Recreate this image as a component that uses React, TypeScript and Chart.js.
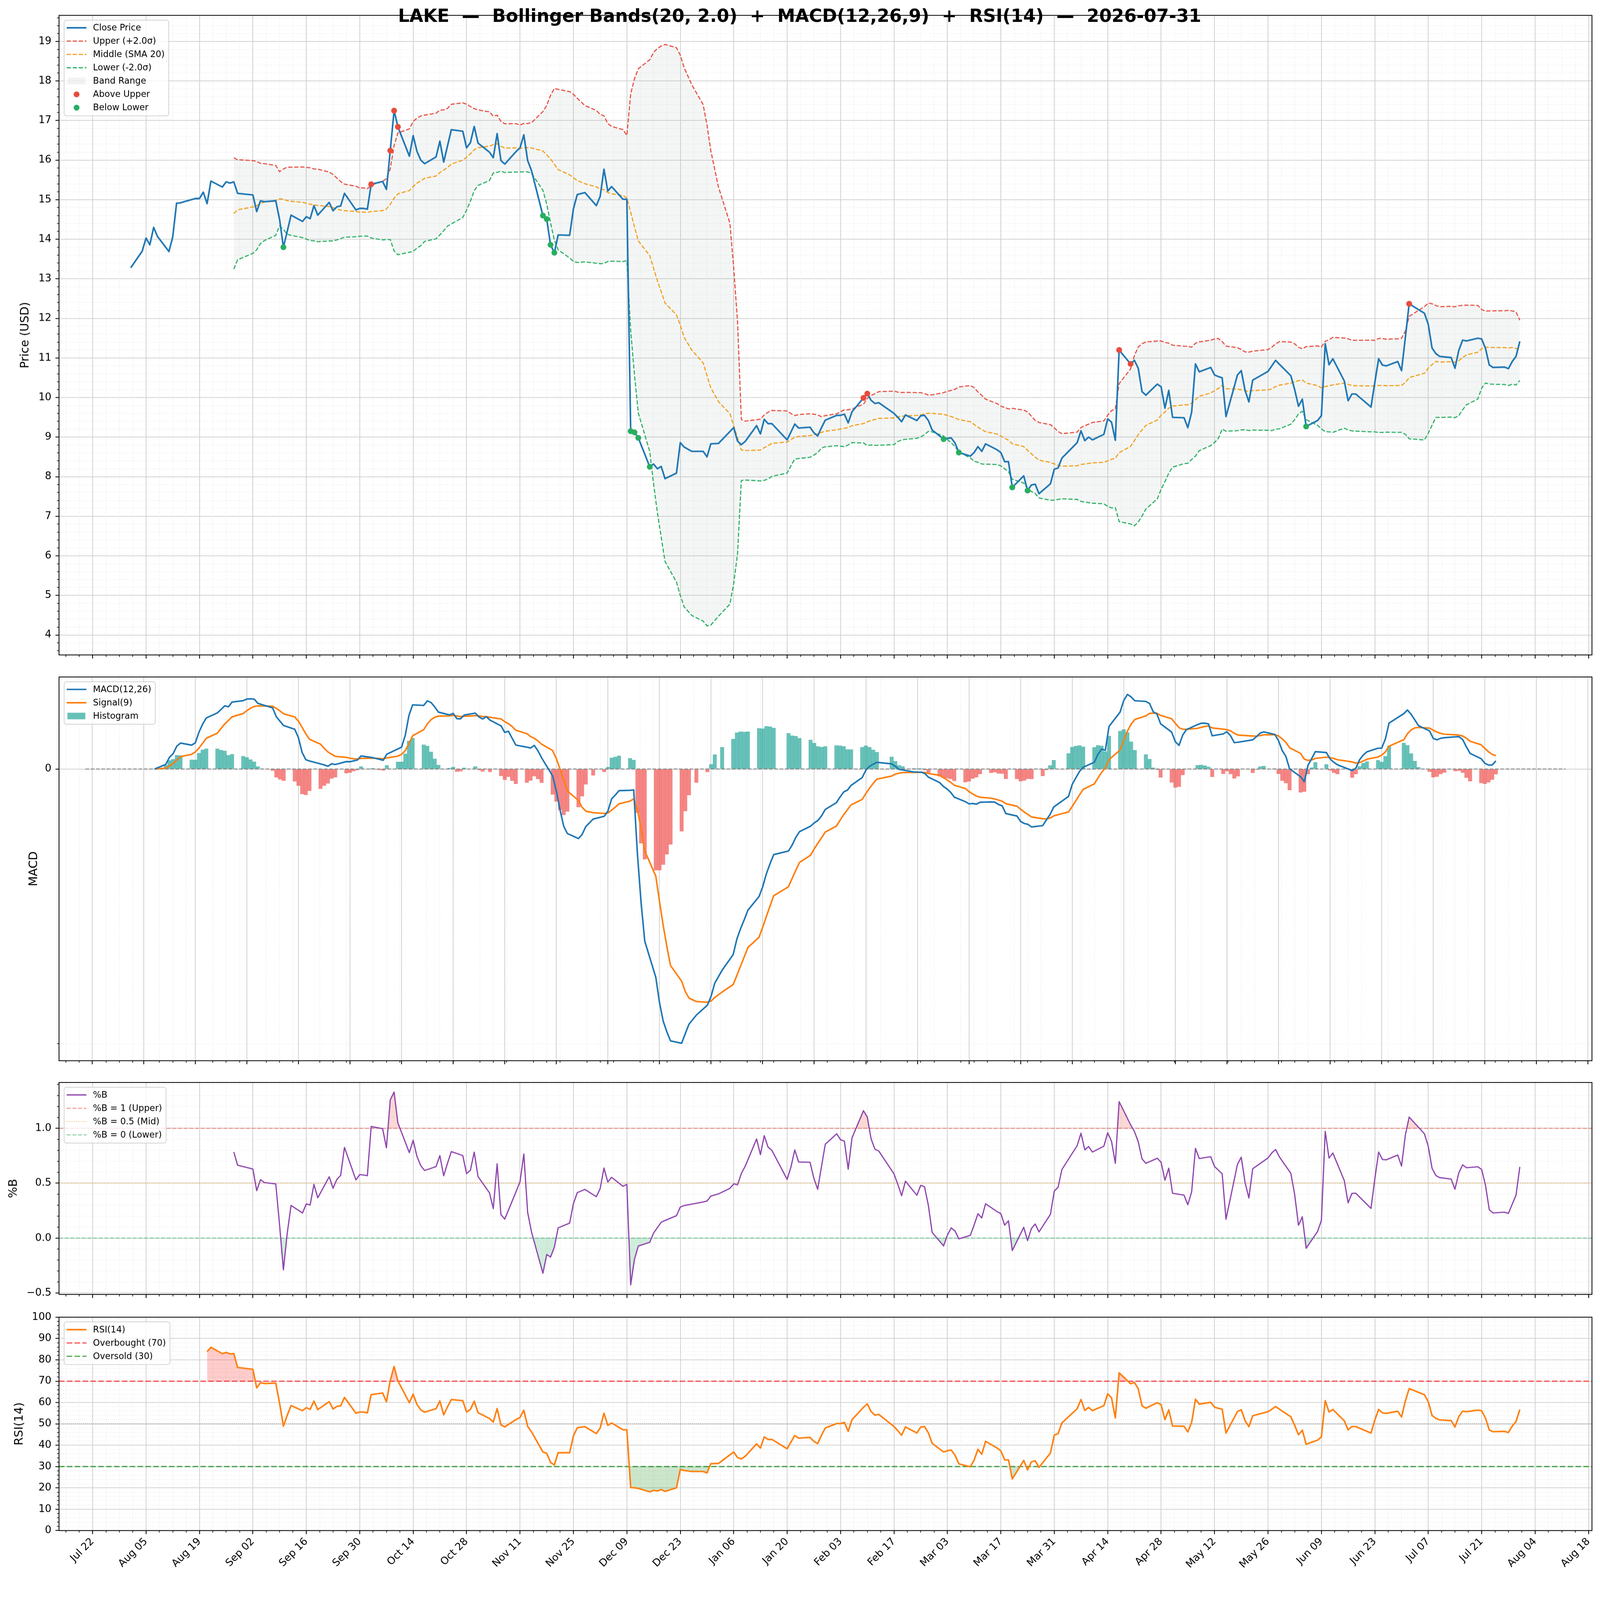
import { useEffect, useRef } from "react";
import { Chart, registerables } from "chart.js";
import type { ChartConfiguration, Plugin } from "chart.js";

Chart.register(...registerables);
Chart.defaults.font.family = '"DejaVu Sans", sans-serif';
Chart.defaults.color = "#000";

const TITLE =
  "LAKE  \u2014  Bollinger Bands(20, 2.0)  +  MACD(12,26,9)  +  RSI(14)  \u2014  2026-07-31";
const FIRST_SESSION = "2025-08-01";
const LAST_SESSION = "2026-07-31";
const marketHolidays = [
  "2025-09-01", "2025-11-27", "2025-12-25", "2026-01-01", "2026-01-19",
  "2026-02-16", "2026-04-03", "2026-05-25", "2026-06-19", "2026-07-03",
];

// daily closes, one row per trading week
const closePrices: number[] = [
  13.28,
  13.7, 14.03, 13.86, 14.3, 14.07,
  13.69, 14.06, 14.91, 14.92, 14.95,
  15.03, 15.03, 15.19, 14.9, 15.47,
  15.32, 15.45, 15.42, 15.45, 15.16,
  15.12, 14.7, 14.97, 14.95,
  14.97, 14.5, 13.8, 14.2, 14.61,
  14.45, 14.57, 14.52, 14.85, 14.61,
  14.93, 14.72, 14.82, 14.84, 15.16,
  14.74, 14.78, 14.78, 14.76, 15.39,
  15.46, 15.26, 16.24, 17.25, 16.84,
  16.1, 16.62, 16.22, 16.0, 15.91,
  16.08, 16.48, 15.95, 16.36, 16.77,
  16.73, 16.31, 16.44, 16.85, 16.43,
  16.2, 16.06, 16.67, 15.99, 15.9,
  16.22, 16.31, 16.64, 15.99, 15.74,
  14.6, 14.51, 13.86, 13.66, 14.11,
  14.1, 14.77, 15.13, 15.18,
  14.85, 15.08, 15.77, 15.22, 15.33,
  15.01, 15.01, 9.15, 9.12, 8.98,
  8.25, 8.32, 8.2, 8.26, 7.95,
  8.09, 8.86, 8.75, 8.64,
  8.64, 8.5, 8.83, 8.84,
  9.14, 9.24, 8.9, 8.81, 8.89,
  9.29, 9.08, 9.45, 9.34, 9.34,
  8.93, 9.13, 9.33, 9.23,
  9.25, 9.11, 9.03, 9.24, 9.43,
  9.55, 9.55, 9.58, 9.36, 9.64,
  9.99, 10.1, 9.93, 9.85, 9.87,
  9.6, 9.5, 9.39, 9.56,
  9.42, 9.54, 9.55, 9.42, 9.18,
  8.95, 8.97, 8.98, 8.85, 8.61,
  8.52, 8.61, 8.76, 8.64, 8.83,
  8.68, 8.61, 8.38, 8.38, 7.73,
  8.02, 7.65, 7.79, 7.81, 7.57,
  7.82, 8.19, 8.22, 8.47,
  8.86, 9.16, 8.91, 9.0, 8.93,
  9.07, 9.46, 9.38, 8.92, 11.2,
  10.85, 10.94, 10.74, 10.15, 10.06,
  10.34, 10.27, 9.73, 10.18, 9.5,
  9.49, 9.24, 9.63, 10.85, 10.65,
  10.76, 10.57, 10.53, 10.5, 9.52,
  10.57, 10.68, 10.18, 9.89, 10.44,
  10.66, 10.8, 10.94, 10.84,
  10.55, 10.2, 9.78, 9.96, 9.27,
  9.42, 9.54, 11.36, 10.83, 10.98,
  10.42, 9.92, 10.09, 10.09,
  9.76, 10.38, 10.98, 10.82, 10.8,
  10.91, 10.68, 11.52, 12.37,
  12.13, 11.85, 11.25, 11.11, 11.04,
  11.01, 10.74, 11.19, 11.45, 11.43,
  11.5, 11.48, 11.24, 10.82, 10.76,
  10.77, 10.73, 10.91, 11.04, 11.42,
];

const dateTickLabels = [
  "Jul 22", "Aug 05", "Aug 19", "Sep 02", "Sep 16", "Sep 30", "Oct 14", "Oct 28",
  "Nov 11", "Nov 25", "Dec 09", "Dec 23", "Jan 06", "Jan 20", "Feb 03", "Feb 17",
  "Mar 03", "Mar 17", "Mar 31", "Apr 14", "Apr 28", "May 12", "May 26", "Jun 09",
  "Jun 23", "Jul 07", "Jul 21", "Aug 04", "Aug 18",
];
const priceTicks = [4, 5, 6, 7, 8, 9, 10, 11, 12, 13, 14, 15, 16, 17, 18, 19];
const macdTicks = [0];
const macdMinorTicks = [-2];
const pctBTicks = [-0.5, 0, 0.5, 1];
const rsiTicks = [0, 10, 20, 30, 40, 50, 60, 70, 80, 90, 100];

// ---- layout (design px, figure is 4378 x 4322) ----
const W = 4378;
const H = 4322;
const AXIS_W = 161.5;
const PAD_RIGHT = 22;
const X_MIN = -8.8;
const X_MAX = 392.9;
const GRID_MAJOR = "#d2d2d2";
const GRID_MINOR = "#e3e3e3";

// ---- dates ----
const DAY_MS = 86400000;
const AXIS_ORIGIN = Date.UTC(2025, 6, 22); // first labelled tick = day 0
function dayIndex(iso: string) {
  const [y, m, d] = iso.split("-").map(Number);
  return (Date.UTC(y, m - 1, d) - AXIS_ORIGIN) / DAY_MS;
}
function tradingDays(from: string, to: string, closed: string[]) {
  const skip = new Set(closed.map(dayIndex));
  const out: number[] = [];
  for (let t = dayIndex(from); t <= dayIndex(to); t++) {
    const wd = new Date(AXIS_ORIGIN + t * DAY_MS).getUTCDay();
    if (wd !== 0 && wd !== 6 && !skip.has(t)) out.push(t);
  }
  return out;
}

// ---- indicators ----
type Num = number | null;
function rollingMean(v: number[], n: number): Num[] {
  return v.map((_, i) => {
    if (i < n - 1) return null;
    let s = 0;
    for (let k = i - n + 1; k <= i; k++) s += v[k];
    return s / n;
  });
}
function rollingStd(v: number[], n: number): Num[] {
  const m = rollingMean(v, n);
  return v.map((_, i) => {
    if (m[i] == null) return null;
    let s = 0;
    for (let k = i - n + 1; k <= i; k++) s += (v[k] - (m[i] as number)) ** 2;
    return Math.sqrt(s / (n - 1));
  });
}
function ema(v: number[], span: number) {
  const a = 2 / (span + 1);
  const out: number[] = [];
  v.forEach((x, i) => out.push(i === 0 ? x : a * x + (1 - a) * out[i - 1]));
  return out;
}
function wilderRsi(v: number[], n: number): Num[] {
  const out: Num[] = v.map(() => null);
  let ag = 0;
  let al = 0;
  for (let i = 1; i < v.length; i++) {
    const d = v[i] - v[i - 1];
    const g = Math.max(d, 0);
    const l = Math.max(-d, 0);
    if (i === 1) {
      ag = g;
      al = l;
    } else {
      ag += (g - ag) / n;
      al += (l - al) / n;
    }
    if (i >= n) out[i] = al === 0 ? 100 : 100 - 100 / (1 + ag / al);
  }
  return out;
}

const sessions = tradingDays(FIRST_SESSION, LAST_SESSION, marketHolidays);
const N = Math.min(sessions.length, closePrices.length);
const days = sessions.slice(0, N);
const close = closePrices.slice(0, N);
const middle = rollingMean(close, 20);
const sd = rollingStd(close, 20);
const upper: Num[] = middle.map((m, i) => (m == null ? null : m + 2 * (sd[i] as number)));
const lower: Num[] = middle.map((m, i) => (m == null ? null : m - 2 * (sd[i] as number)));
const pctB: Num[] = close.map((c, i) =>
  upper[i] == null ? null : (c - (lower[i] as number)) / ((upper[i] as number) - (lower[i] as number))
);
const ema12 = ema(close, 12);
const ema26 = ema(close, 26);
const macd = ema12.map((v, i) => v - ema26[i]);
const signal = ema(macd, 9);
const hist = macd.map((v, i) => v - signal[i]);
const rsi = wilderRsi(close, 14);

const pts = (ys: Num[]) => days.map((d, i) => ({ x: d, y: ys[i] }));
const hline = (y: number) => [
  { x: X_MIN, y },
  { x: X_MAX, y },
];
function padRange(series: Num[][]) {
  let lo = Infinity;
  let hi = -Infinity;
  series.forEach((s) =>
    s.forEach((v) => {
      if (v == null) return;
      lo = Math.min(lo, v);
      hi = Math.max(hi, v);
    })
  );
  const p = (hi - lo) * 0.05;
  return [lo - p, hi + p];
}

// ---- scales ----
const majorX = dateTickLabels.map((_, i) => i * 14);
const minorX: number[] = [];
for (let k = -3; k * 3.5 <= X_MAX; k++) if (k * 3.5 >= X_MIN && k % 4 !== 0) minorX.push(k * 3.5);
function minorSteps(from: number, to: number, step: number, every: number) {
  const out: number[] = [];
  for (let k = Math.round(from / step); k <= Math.round(to / step); k++)
    if (k % every !== 0) out.push(+(k * step).toFixed(4));
  return out;
}

function fixedTicks(values: number[]) {
  return (scale: any) => {
    scale.ticks = values
      .filter((v) => v >= scale.min - 1e-9 && v <= scale.max + 1e-9)
      .map((v) => ({ value: v }));
  };
}

function xScales(showLabels: boolean, axisHeight: number) {
  return {
    xMinor: {
      type: "linear",
      position: "bottom",
      weight: -1,
      min: X_MIN,
      max: X_MAX,
      afterBuildTicks: fixedTicks(minorX),
      afterFit: (s: any) => {
        s.height = 0;
        s.paddingLeft = 0;
        s.paddingRight = 0;
      },
      grid: { color: GRID_MINOR, lineWidth: 1.4, drawTicks: true, tickLength: 5.6, tickColor: "#000", tickWidth: 1.7 },
      border: { display: false, dash: [2.2, 3.6] },
      ticks: { display: false, autoSkip: false },
    },
    x: {
      type: "linear",
      position: "bottom",
      weight: 0,
      min: X_MIN,
      max: X_MAX,
      afterBuildTicks: fixedTicks(majorX),
      afterFit: (s: any) => {
        s.height = axisHeight;
        s.paddingLeft = 0;
        s.paddingRight = 0;
      },
      grid: { color: GRID_MAJOR, lineWidth: 2.2, drawTicks: true, tickLength: 9.7, tickColor: "#000", tickWidth: 2.2 },
      border: { display: false },
      ticks: {
        display: showLabels,
        autoSkip: false,
        minRotation: 45,
        maxRotation: 45,
        padding: 4,
        font: { size: 28 },
        callback: (v: any) => dateTickLabels[Math.round(Number(v) / 14)] ?? "",
      },
    },
  };
}

function yScales(o: {
  min: number;
  max: number;
  major: number[];
  minor: number[];
  fmt: (v: number) => string;
  title: string;
  titlePad: number;
}) {
  return {
    yMinor: {
      type: "linear",
      position: "left",
      weight: -1,
      min: o.min,
      max: o.max,
      afterBuildTicks: fixedTicks(o.minor),
      afterFit: (s: any) => {
        s.width = 0;
        s.paddingTop = 0;
        s.paddingBottom = 0;
      },
      grid: { color: GRID_MINOR, lineWidth: 1.4, drawTicks: true, tickLength: 5.6, tickColor: "#000", tickWidth: 1.7 },
      border: { display: false, dash: [2.2, 3.6] },
      ticks: { display: false, autoSkip: false },
    },
    y: {
      type: "linear",
      position: "left",
      weight: 0,
      min: o.min,
      max: o.max,
      afterBuildTicks: fixedTicks(o.major),
      afterFit: (s: any) => {
        s.width = AXIS_W;
        s.paddingTop = 0;
        s.paddingBottom = 0;
      },
      grid: { color: GRID_MAJOR, lineWidth: 2.2, drawTicks: true, tickLength: 9.7, tickColor: "#000", tickWidth: 2.2 },
      border: { display: false },
      ticks: { autoSkip: false, padding: 11, font: { size: 28 }, callback: (v: any) => o.fmt(Number(v)) },
      title: { display: true, text: o.title, font: { size: 32 }, padding: { top: o.titlePad, bottom: 0 } },
    },
  };
}

// ---- plugins ----
const framePlugin: Plugin = {
  id: "frame",
  afterDatasetsDraw(chart) {
    const { ctx, chartArea: a } = chart;
    ctx.save();
    ctx.strokeStyle = "#000";
    ctx.lineWidth = 2.2;
    ctx.strokeRect(a.left, a.top, a.right - a.left, a.bottom - a.top);
    ctx.restore();
  },
};

const titlePlugin: Plugin = {
  id: "figTitle",
  afterDraw(chart) {
    const { ctx } = chart;
    ctx.save();
    ctx.font = 'bold 49px "DejaVu Sans"';
    ctx.fillStyle = "#000";
    ctx.textAlign = "center";
    ctx.textBaseline = "alphabetic";
    ctx.fillText(TITLE, 2188, 60);
    ctx.restore();
  },
};

type LegendItem = {
  label: string;
  kind: "line" | "patch" | "marker";
  color: string;
  width?: number;
  dash?: number[];
};

function legendPlugin(items: LegendItem[]): Plugin {
  return {
    id: "boxLegend",
    afterDraw(chart) {
      const { ctx, chartArea: a } = chart;
      const left = a.left + 14;
      const top = a.top + 13;
      const row = 36.4;
      ctx.save();
      ctx.font = '24px "DejaVu Sans"';
      const tw = Math.max(...items.map((it) => ctx.measureText(it.label).width));
      const w = 79 + tw + 11;
      const h = 7 + items.length * row;
      ctx.beginPath();
      ctx.roundRect(left, top, w, h, 6);
      ctx.fillStyle = "rgba(255,255,255,0.8)";
      ctx.fill();
      ctx.strokeStyle = "rgba(204,204,204,0.9)";
      ctx.lineWidth = 2;
      ctx.stroke();
      items.forEach((it, i) => {
        const cy = top + 21 + i * row;
        if (it.kind === "line") {
          ctx.beginPath();
          ctx.setLineDash(it.dash ?? []);
          ctx.strokeStyle = it.color;
          ctx.lineWidth = it.width ?? 4;
          ctx.moveTo(left + 7, cy);
          ctx.lineTo(left + 61, cy);
          ctx.stroke();
          ctx.setLineDash([]);
        } else if (it.kind === "patch") {
          ctx.fillStyle = it.color;
          ctx.fillRect(left + 9, cy - 9, 49, 18);
        } else {
          ctx.beginPath();
          ctx.fillStyle = it.color;
          ctx.arc(left + 34, cy, 8, 0, Math.PI * 2);
          ctx.fill();
        }
        ctx.fillStyle = "#000";
        ctx.textAlign = "left";
        ctx.textBaseline = "middle";
        ctx.fillText(it.label, left + 79, cy + 1);
      });
      ctx.restore();
    },
  };
}

const baseOptions = {
  responsive: false,
  animation: false as const,
  events: [] as any[],
  plugins: { legend: { display: false }, tooltip: { enabled: false } },
  elements: { point: { radius: 0 }, line: { borderJoinStyle: "round" as const, tension: 0 } },
};

const XY = { xAxisID: "x", yAxisID: "y" };

// ---- colours ----
const BLUE = "#1f77b4";
const ORANGE = "#ff7f0e";
const RED_B = "#e74c3c";
const ORANGE_B = "#f39c12";
const GREEN_B = "#27ae60";
const BAND_DASH = [11.5, 5];

function priceConfig(): ChartConfiguration {
  const [lo, hi] = padRange([close, upper, lower]);
  const above = days
    .map((d, i) => ({ x: d, y: upper[i] != null && close[i] > (upper[i] as number) ? close[i] : null }))
    .filter((p) => p.y != null);
  const below = days
    .map((d, i) => ({ x: d, y: lower[i] != null && close[i] < (lower[i] as number) ? close[i] : null }))
    .filter((p) => p.y != null);
  return {
    type: "line",
    data: {
      datasets: [
        { ...XY, data: pts(upper), borderWidth: 0, fill: "+1", backgroundColor: "rgba(149,165,166,0.1)", order: 10 },
        { ...XY, data: pts(lower), borderWidth: 0, order: 10 },
        { ...XY, data: pts(upper), borderColor: RED_B, borderWidth: 3, borderDash: BAND_DASH, order: 5 },
        { ...XY, data: pts(middle), borderColor: ORANGE_B, borderWidth: 3, borderDash: BAND_DASH, order: 5 },
        { ...XY, data: pts(lower), borderColor: GREEN_B, borderWidth: 3, borderDash: BAND_DASH, order: 5 },
        { ...XY, data: pts(close), borderColor: BLUE, borderWidth: 4.4, order: 2 },
        { ...XY, data: above, showLine: false, pointRadius: 8, pointBackgroundColor: RED_B, pointBorderWidth: 0, order: 0 },
        { ...XY, data: below, showLine: false, pointRadius: 8, pointBackgroundColor: GREEN_B, pointBorderWidth: 0, order: 0 },
      ] as any,
    },
    options: {
      ...baseOptions,
      layout: { padding: { left: 0, right: PAD_RIGHT, top: 42, bottom: 0 } },
      scales: {
        ...yScales({
          min: lo,
          max: hi,
          major: priceTicks,
          minor: minorSteps(3.4, 19.8, 0.2, 5),
          fmt: (v) => String(v),
          title: "Price (USD)",
          titlePad: 51,
        }),
        ...xScales(false, 31),
      } as any,
    },
    plugins: [
      framePlugin,
      titlePlugin,
      legendPlugin([
        { label: "Close Price", kind: "line", color: BLUE, width: 4.4 },
        { label: "Upper (+2.0\u03c3)", kind: "line", color: RED_B, width: 3, dash: BAND_DASH },
        { label: "Middle (SMA 20)", kind: "line", color: ORANGE_B, width: 3, dash: BAND_DASH },
        { label: "Lower (-2.0\u03c3)", kind: "line", color: GREEN_B, width: 3, dash: BAND_DASH },
        { label: "Band Range", kind: "patch", color: "rgba(149,165,166,0.13)" },
        { label: "Above Upper", kind: "marker", color: RED_B },
        { label: "Below Lower", kind: "marker", color: GREEN_B },
      ]),
    ],
  };
}

const HIST_UP = "rgba(38,166,154,0.7)";
const HIST_DN = "rgba(239,83,80,0.7)";

function macdConfig(): ChartConfiguration {
  const [lo, hi] = padRange([macd, signal, hist]);
  return {
    type: "line",
    data: {
      datasets: [
        {
          ...XY,
          type: "bar",
          data: pts(hist),
          backgroundColor: hist.map((v) => (v >= 0 ? HIST_UP : HIST_DN)),
          barThickness: 10,
          borderWidth: 0,
          order: 6,
        },
        { ...XY, data: hline(0), borderColor: "rgba(128,128,128,0.9)", borderWidth: 2.8, borderDash: [10, 4.5], order: 4 },
        { ...XY, data: pts(signal), borderColor: ORANGE, borderWidth: 4.2, order: 2 },
        { ...XY, data: pts(macd), borderColor: BLUE, borderWidth: 4.2, order: 1 },
      ] as any,
    },
    options: {
      ...baseOptions,
      layout: { padding: { left: 0, right: PAD_RIGHT, top: 30, bottom: 0 } },
      scales: {
        ...yScales({ min: lo, max: hi, major: macdTicks, minor: macdMinorTicks, fmt: (v) => String(v), title: "MACD", titlePad: 74 }),
        ...xScales(false, 30),
      } as any,
    },
    plugins: [
      framePlugin,
      legendPlugin([
        { label: "MACD(12,26)", kind: "line", color: BLUE, width: 4.2 },
        { label: "Signal(9)", kind: "line", color: ORANGE, width: 4.2 },
        { label: "Histogram", kind: "patch", color: HIST_UP },
      ]),
    ],
  };
}

const PB_RED = "rgba(231,76,60,0.7)";
const PB_MID = "rgba(243,156,18,0.7)";
const PB_GREEN = "rgba(39,174,96,0.7)";

function pctBConfig(): ChartConfiguration {
  const [lo, hi] = padRange([pctB]);
  return {
    type: "line",
    data: {
      datasets: [
        { ...XY, data: pts(pctB), borderWidth: 0, fill: { target: { value: 1 }, above: "rgba(231,76,60,0.22)", below: "rgba(0,0,0,0)" }, order: 9 },
        { ...XY, data: pts(pctB), borderWidth: 0, fill: { target: { value: 0 }, above: "rgba(0,0,0,0)", below: "rgba(39,174,96,0.22)" }, order: 9 },
        { ...XY, data: hline(1), borderColor: PB_RED, borderWidth: 2.2, borderDash: [11, 4.5], order: 4 },
        { ...XY, data: hline(0.5), borderColor: PB_MID, borderWidth: 2.2, borderDash: [2.5, 4], order: 4 },
        { ...XY, data: hline(0), borderColor: PB_GREEN, borderWidth: 2.2, borderDash: [11, 4.5], order: 4 },
        { ...XY, data: pts(pctB), borderColor: "#8e44ad", borderWidth: 3.3, order: 1 },
      ] as any,
    },
    options: {
      ...baseOptions,
      layout: { padding: { left: 0, right: PAD_RIGHT, top: 30, bottom: 0 } },
      scales: {
        ...yScales({
          min: lo,
          max: hi,
          major: pctBTicks,
          minor: minorSteps(-0.6, 1.5, 0.1, 5),
          fmt: (v) => v.toFixed(1).replace("-", "\u2212"),
          title: "%B",
          titlePad: 18,
        }),
        ...xScales(false, 31),
      } as any,
    },
    plugins: [
      framePlugin,
      legendPlugin([
        { label: "%B", kind: "line", color: "#8e44ad", width: 3.3 },
        { label: "%B = 1 (Upper)", kind: "line", color: PB_RED, width: 2.2, dash: [11, 4.5] },
        { label: "%B = 0.5 (Mid)", kind: "line", color: PB_MID, width: 2.2, dash: [2.5, 4] },
        { label: "%B = 0 (Lower)", kind: "line", color: PB_GREEN, width: 2.2, dash: [11, 4.5] },
      ]),
    ],
  };
}

const OB = "rgba(255,0,0,0.75)";
const OS = "rgba(0,128,0,0.75)";

function rsiConfig(): ChartConfiguration {
  return {
    type: "line",
    data: {
      datasets: [
        { ...XY, data: pts(rsi), borderWidth: 0, fill: { target: { value: 70 }, above: "rgba(255,0,0,0.2)", below: "rgba(0,0,0,0)" }, order: 9 },
        { ...XY, data: pts(rsi), borderWidth: 0, fill: { target: { value: 30 }, above: "rgba(0,0,0,0)", below: "rgba(0,128,0,0.2)" }, order: 9 },
        { ...XY, data: hline(70), borderColor: OB, borderWidth: 3, borderDash: [15, 6.5], order: 4 },
        { ...XY, data: hline(50), borderColor: "rgba(128,128,128,0.7)", borderWidth: 2.4, borderDash: [2.5, 3], order: 4 },
        { ...XY, data: hline(30), borderColor: OS, borderWidth: 3, borderDash: [15, 6.5], order: 4 },
        { ...XY, data: pts(rsi), borderColor: ORANGE, borderWidth: 4.2, order: 1 },
      ] as any,
    },
    options: {
      ...baseOptions,
      layout: { padding: { left: 0, right: PAD_RIGHT, top: 32, bottom: 0 } },
      scales: {
        ...yScales({
          min: 0,
          max: 100,
          major: rsiTicks,
          minor: minorSteps(0, 100, 2, 5),
          fmt: (v) => String(v),
          title: "RSI(14)",
          titlePad: 35,
        }),
        ...xScales(true, 135),
      } as any,
    },
    plugins: [
      framePlugin,
      legendPlugin([
        { label: "RSI(14)", kind: "line", color: ORANGE, width: 4.2 },
        { label: "Overbought (70)", kind: "line", color: OB, width: 3, dash: [15, 6.5] },
        { label: "Oversold (30)", kind: "line", color: OS, width: 3, dash: [15, 6.5] },
      ]),
    ],
  };
}

function Panel({
  top,
  height,
  scale,
  build,
}: {
  top: number;
  height: number;
  scale: number;
  build: () => ChartConfiguration;
}) {
  const ref = useRef<HTMLCanvasElement>(null);
  useEffect(() => {
    if (!ref.current) return;
    const cfg = build();
    // chart works in figure pixels; backing store matches real device pixels
    (cfg.options as any).devicePixelRatio = scale * (window.devicePixelRatio || 1);
    const chart = new Chart(ref.current, cfg);
    return () => chart.destroy();
  }, [build, scale]);
  return (
    <canvas
      ref={ref}
      width={W}
      height={height}
      style={{ position: "absolute", left: 0, top: top * scale, width: W * scale, height: height * scale }}
    />
  );
}

export default function App() {
  const scale = Math.min(window.innerWidth / W, window.innerHeight / H) || 1;
  return (
    <div
      style={{
        position: "absolute",
        left: 0,
        top: 0,
        width: W * scale,
        height: H * scale,
        overflow: "hidden",
        background: "#fff",
      }}
    >
      <Panel top={0} height={1822} scale={scale} build={priceConfig} />
      <Panel top={1822} height={1110} scale={scale} build={macdConfig} />
      <Panel top={2932} height={640} scale={scale} build={pctBConfig} />
      <Panel top={3572} height={750} scale={scale} build={rsiConfig} />
    </div>
  );
}
